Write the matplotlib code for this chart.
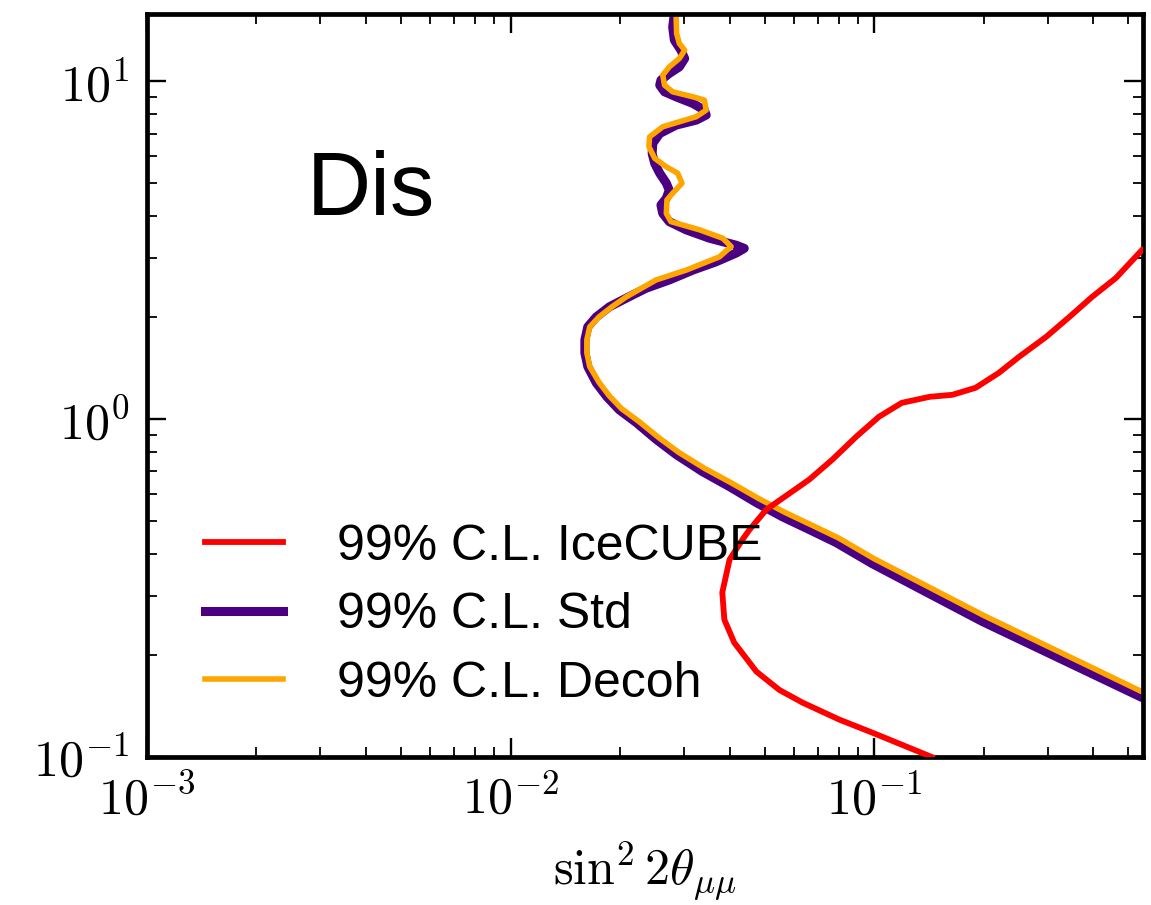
import numpy as np
import matplotlib.pyplot as plt
from matplotlib.ticker import FuncFormatter, NullFormatter, LogLocator

plt.rcParams['mathtext.fontset'] = 'cm'
plt.rcParams['font.family'] = ['Liberation Sans', 'DejaVu Sans']

# 99% C.L. contours (sin^2 2theta, Delta m^2)
ice_x = [0.144, 0.0989, 0.0802, 0.0634, 0.0548, 0.0474, 0.0412, 0.0387, 0.0382, 0.0400,
         0.0434, 0.0454, 0.0505, 0.0662, 0.0767, 0.0893, 0.103, 0.119, 0.142, 0.164,
         0.190, 0.220, 0.250, 0.297, 0.344, 0.397, 0.462, 0.544]
ice_y = [0.100, 0.118, 0.129, 0.145, 0.158, 0.179, 0.218, 0.255, 0.307, 0.384,
         0.440, 0.471, 0.540, 0.662, 0.759, 0.888, 1.016, 1.117, 1.164, 1.180,
         1.238, 1.370, 1.528, 1.752, 2.006, 2.299, 2.617, 3.16]

std_x = [0.0282, 0.0279, 0.0282, 0.0294, 0.0301, 0.0291, 0.0273, 0.0259, 0.0257, 0.0265,
         0.0285, 0.0317, 0.0341, 0.0345, 0.0324, 0.0285, 0.0257, 0.0246, 0.0245, 0.0249,
         0.0257, 0.0268, 0.0273, 0.0268, 0.0259, 0.0262, 0.0273, 0.0304, 0.0352, 0.0417,
         0.0439, 0.0417, 0.0367, 0.0317, 0.0273, 0.0236, 0.0208,
         0.0187, 0.0172, 0.0163, 0.0160, 0.0160, 0.0163, 0.0172, 0.0184, 0.0199, 0.0222,
         0.0252, 0.0286, 0.0337, 0.0400, 0.0474, 0.0559, 0.0663, 0.0786, 0.0987, 0.198,
         0.545]
std_y = [15.8, 14.47, 13.22, 12.35, 11.67, 11.02, 10.54, 10.07, 9.73, 9.30,
         8.99, 8.59, 8.21, 7.94, 7.67, 7.41, 7.00, 6.55, 6.11, 5.71,
         5.34, 4.99, 4.76, 4.50, 4.30, 4.06, 3.84, 3.63, 3.43, 3.27,
         3.20, 3.10, 2.92, 2.76, 2.58, 2.44, 2.28,
         2.15, 2.006, 1.875, 1.716, 1.570, 1.43, 1.280, 1.164, 1.065, 0.975,
         0.869, 0.784, 0.699, 0.631, 0.566, 0.514, 0.471, 0.431, 0.3735, 0.252,
         0.150]

decoh_x = [0.0285, 0.0286, 0.0291, 0.0301, 0.0291, 0.0273, 0.0262, 0.0265, 0.0279, 0.0317,
           0.0341, 0.0345, 0.0324, 0.0262, 0.0241, 0.0240, 0.0249, 0.0268, 0.0288, 0.0296,
           0.0279, 0.0269, 0.0268, 0.0276, 0.0331, 0.0383, 0.0404, 0.0375, 0.0304, 0.0251,
           0.0208,
           0.0190, 0.0175, 0.0165, 0.0162, 0.0162, 0.0165, 0.0175, 0.0187, 0.0202, 0.0225,
           0.0256, 0.0290, 0.0342, 0.0405, 0.0481, 0.0567, 0.0672, 0.0797, 0.100, 0.2005,
           0.545]
decoh_y = [15.8, 13.84, 12.93, 12.35, 11.67, 11.02, 10.42, 9.73, 9.30, 8.99,
           8.79, 8.21, 7.85, 7.33, 6.84, 6.40, 5.91, 5.58, 5.34, 4.99,
           4.66, 4.45, 4.06, 3.84, 3.63, 3.43, 3.24, 3.02, 2.76, 2.58,
           2.30,
           2.15, 2.006, 1.875, 1.716, 1.570, 1.43, 1.285, 1.170, 1.073, 0.985,
           0.880, 0.797, 0.714, 0.647, 0.582, 0.530, 0.486, 0.445, 0.386, 0.262,
           0.156]

fig = plt.figure(figsize=(11.51, 9.05), dpi=100)
ax = fig.add_axes([0.1277, 0.1635, 0.8653, 0.821])

l_std, = ax.plot(std_x, std_y, color='#4B0082', lw=6.5, label='99% C.L. Std')
l_dec, = ax.plot(decoh_x, decoh_y, color='orange', lw=4.0, label='99% C.L. Decoh')
l_ice, = ax.plot(ice_x, ice_y, color='red', lw=4.2, label='99% C.L. IceCUBE', zorder=3)

ax.set_xscale('log')
ax.set_yscale('log')
ax.set_xlim(1e-3, 0.548)
ax.set_ylim(0.1, 15.8)

fmt = FuncFormatter(lambda v, p: r'$10^{%d}$' % int(round(np.log10(v))))
for axis in (ax.xaxis, ax.yaxis):
    axis.set_major_locator(LogLocator(base=10))
    axis.set_minor_locator(LogLocator(base=10, subs=np.arange(2, 10)))
    axis.set_major_formatter(fmt)
    axis.set_minor_formatter(NullFormatter())

ax.tick_params(which='both', direction='in', top=True, right=True)
ax.tick_params(which='major', length=14, width=1.7, labelsize=36, pad=13)
ax.tick_params(which='minor', length=7, width=1.3)
for s in ax.spines.values():
    s.set_linewidth(3.4)

ax.set_xlabel(r'$\sin^2 2\theta_{\mu\mu}$', fontsize=36, labelpad=11)

ax.text(0.160, 0.729, 'Dis', fontsize=64, transform=ax.transAxes, va='baseline')

ax.legend(handles=[l_ice, l_std, l_dec], fontsize=36, frameon=False,
          loc='center left', bbox_to_anchor=(0.058, 0.191),
          borderpad=0, borderaxespad=0, handlelength=1.56, handletextpad=1.08,
          labelspacing=0.45)

fig.savefig('out.png', dpi=100)
